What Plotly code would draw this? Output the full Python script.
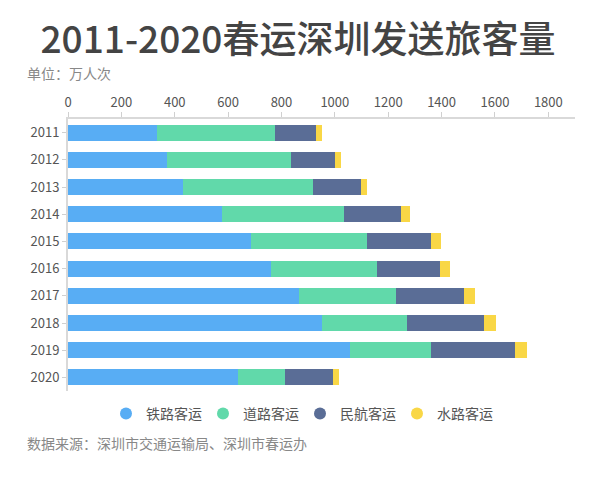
import plotly.graph_objects as go

years = ["2011", "2012", "2013", "2014", "2015", "2016", "2017", "2018", "2019", "2020"]
rail = [334, 370, 432, 576, 684, 759, 864, 951, 1055, 636]
road = [440, 466, 485, 459, 437, 399, 366, 321, 306, 179]
air = [156, 166, 181, 214, 240, 236, 254, 287, 314, 177]
water = [20, 22, 23, 34, 37, 37, 41, 45, 45, 25]
series_names = ["铁路客运", "道路客运", "民航客运", "水路客运"]
colors = ["#58ADF4", "#61D9AA", "#5A6D96", "#F9D746"]
x_ticks = [0, 200, 400, 600, 800, 1000, 1200, 1400, 1600, 1800]

FONT = "Noto Sans CJK SC"
OFF = 8  # page body margin
W, H = 600 - OFF, 477 - OFF
fig = go.Figure()
for name, vals, col in zip(series_names, [rail, road, air, water], colors):
    fig.add_trace(go.Bar(y=years, x=vals, orientation="h", name=name,
                         marker=dict(color=col, line=dict(width=0)),
                         legendgroup=name, showlegend=False))
    fig.add_trace(go.Scatter(x=[None], y=[None], mode="markers", name=name,
                             marker=dict(color=col, size=12, symbol="circle"),
                             legendgroup=name, showlegend=True))

fig.update_layout(
    width=W, height=H,
    margin=dict(l=68 - OFF, r=25, t=119 - OFF, b=86, autoexpand=False),
    barmode="stack", bargap=0.41,
    plot_bgcolor="white", paper_bgcolor="white",
    font=dict(family=FONT, size=13, color="#555"),
    title=dict(text="2011-2020春运深圳发送旅客量", x=(298 - OFF) / W, xref="container", xanchor="center",
               y=1 - (40 - OFF) / H, yref="container", yanchor="middle",
               font=dict(family="Noto Sans CJK SC Medium, Noto Sans CJK SC", size=37, color="#444",
                         weight="normal")),
    xaxis=dict(range=[0, 1900], side="top", tickvals=x_ticks, showgrid=False, zeroline=False,
               showline=True, linecolor="#d9d9d9", linewidth=2, ticks="outside", ticklen=5,
               tickcolor="#d0d0d0", tickfont=dict(size=13, color="#555"), tickangle=0,
               fixedrange=True),
    yaxis=dict(autorange="reversed", showgrid=False, showline=True, linecolor="#d9d9d9", linewidth=2,
               ticks="outside", ticklen=4, tickcolor="#d0d0d0", tickfont=dict(size=13, color="#555"),
               type="category"),
    legend=dict(orientation="h", xref="paper", x=(300 - 68) / 507, xanchor="center", y=(391 - 414) / 272,
                yanchor="middle", font=dict(size=14, color="#555"),
                entrywidth=52, entrywidthmode="pixels", traceorder="normal"),
    annotations=[
        dict(text="单位：万人次", xref="paper", yref="paper", x=(25 - 68) / 507, y=1 + (119 - 73) / 272,
             xanchor="left", yanchor="middle", showarrow=False, font=dict(size=14, color="#888")),
        dict(text="数据来源：深圳市交通运输局、深圳市春运办", xref="paper", yref="paper", x=(25 - 68) / 507,
             y=(391 - 443) / 272, xanchor="left", yanchor="middle", showarrow=False,
             font=dict(size=14, color="#888")),
    ],
)
fig.write_html("out.html")
